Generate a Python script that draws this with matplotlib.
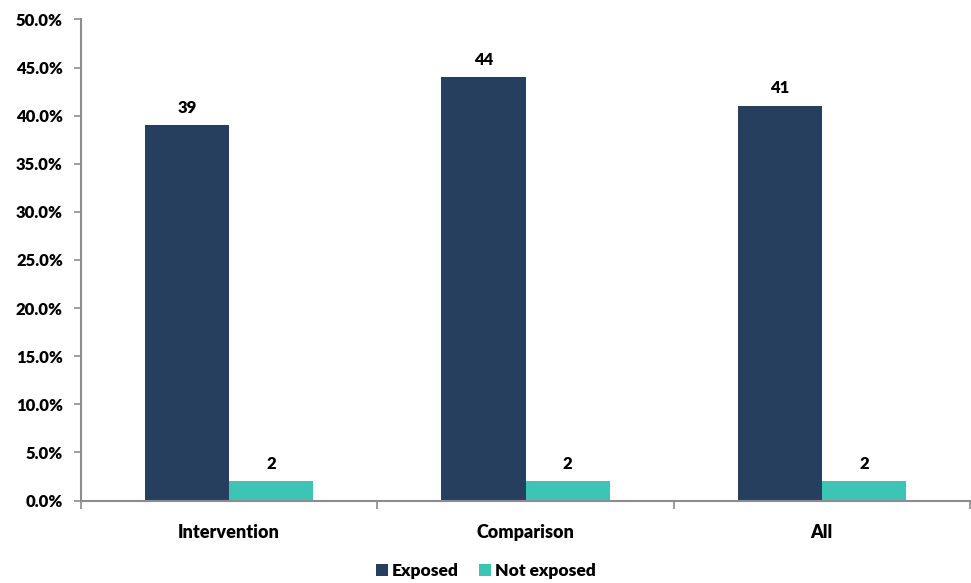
import matplotlib.pyplot as plt
import numpy as np
from matplotlib.ticker import FuncFormatter

groups = ['Intervention', 'Comparison', 'All']
exposed = [39, 44, 41]
not_exposed = [2, 2, 2]

navy = '#263F5F'
teal = '#3CC4B4'
grey = '#8C8C8C'

plt.rcParams['font.family'] = ['Lato', 'DejaVu Sans']
plt.rcParams['font.weight'] = 'heavy'

fig = plt.figure(figsize=(9.71, 5.83), dpi=100)
ax = fig.add_axes([0.0834, 0.1415, 0.9156, 0.8251])

x = np.arange(len(groups))
w = 0.284
b1 = ax.bar(x - w / 2, exposed, w, color=navy, label='Exposed')
b2 = ax.bar(x + w / 2, not_exposed, w, color=teal, label='Not exposed')

for bars, vals in ((b1, exposed), (b2, not_exposed)):
    for bar, v in zip(bars, vals):
        ax.text(bar.get_x() + bar.get_width() / 2, v + 1.0, str(v),
                ha='center', va='bottom', fontsize=12, fontweight='heavy')

ax.set_xlim(-0.5, len(groups) - 0.5)
ax.set_ylim(0, 50)
ax.set_yticks(np.arange(0, 50.1, 5))
ax.yaxis.set_major_formatter(FuncFormatter(lambda v, p: f'{v:.1f}%'))

# category boundaries carry the x ticks
ax.set_xticks(np.arange(-0.5, len(groups), 1.0))
ax.set_xticklabels([])
ax.set_xticks(x, minor=True)
ax.set_xticklabels(groups, minor=True, fontsize=13, fontweight='heavy')
ax.tick_params(axis='x', which='minor', length=0, pad=17)
ax.tick_params(axis='x', which='major', length=6, width=1.2, color=grey)
ax.tick_params(axis='y', length=5, width=1.2, color=grey, labelsize=12, pad=8)

for s in ('top', 'right'):
    ax.spines[s].set_visible(False)
for s in ('left', 'bottom'):
    ax.spines[s].set_color(grey)
    ax.spines[s].set_linewidth(1.5)

leg = fig.legend(loc='lower center', bbox_to_anchor=(0.5, -0.02), ncol=2, frameon=False,
                 handlelength=0.7, handleheight=0.7, handletextpad=0.2,
                 columnspacing=1.2, prop={'weight': 'heavy', 'size': 12.5})

fig.savefig('out.png', dpi=100)
